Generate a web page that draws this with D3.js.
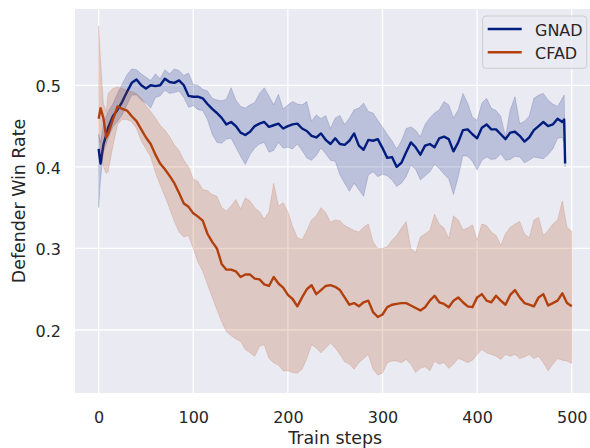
<!DOCTYPE html>
<html>
<head>
<meta charset="utf-8">
<script src="https://cdn.jsdelivr.net/npm/d3@7"></script>
<style>
  body { margin: 0; background: #fff; }
  svg text { font-family: "DejaVu Sans", sans-serif; fill: #262626; }
</style>
</head>
<body>
<div id="chart"></div>
<script>
// ---- data ----
const seriesNames = ['GNAD', 'CFAD'];
const xTicks = [0, 100, 200, 300, 400, 500];
const yTicks = [0.2, 0.3, 0.4, 0.5];

const gnadSteps = [0, 2, 5, ...d3.range(10, 495, 5), 492, 493];
const gnadMean = [0.422, 0.404, 0.427,
  0.448, 0.462, 0.470, 0.480, 0.492, 0.503, 0.507, 0.500, 0.496, 0.500,
  0.499, 0.500, 0.508, 0.504, 0.503, 0.506, 0.500, 0.487, 0.486, 0.486,
  0.484, 0.477, 0.471, 0.466, 0.460, 0.452, 0.455, 0.450, 0.442, 0.439,
  0.443, 0.450, 0.453, 0.455, 0.449, 0.451, 0.453, 0.447, 0.450, 0.452,
  0.453, 0.447, 0.444, 0.438, 0.436, 0.441, 0.433, 0.428, 0.435, 0.428,
  0.427, 0.432, 0.441, 0.426, 0.421, 0.433, 0.432, 0.434, 0.423, 0.411,
  0.412, 0.400, 0.405, 0.418, 0.430, 0.424, 0.415, 0.426, 0.428, 0.424,
  0.435, 0.437, 0.434, 0.419, 0.430, 0.445, 0.446, 0.440, 0.435, 0.448,
  0.452, 0.446, 0.446, 0.440, 0.434, 0.442, 0.443, 0.438, 0.431, 0.436,
  0.445, 0.450, 0.455, 0.450, 0.452, 0.459, 0.455,
  0.458, 0.404];
const gnadHigh = [0.440, 0.430, 0.452,
  0.468, 0.477, 0.490, 0.502, 0.513, 0.520, 0.519, 0.514, 0.510, 0.506,
  0.514, 0.508, 0.519, 0.514, 0.520, 0.518, 0.512, 0.515, 0.501, 0.500,
  0.495, 0.493, 0.484, 0.482, 0.481, 0.483, 0.497, 0.482, 0.474, 0.472,
  0.476, 0.479, 0.490, 0.497, 0.487, 0.476, 0.489, 0.471, 0.476, 0.480,
  0.477, 0.476, 0.480, 0.456, 0.464, 0.459, 0.463, 0.447, 0.460, 0.463,
  0.452, 0.460, 0.470, 0.472, 0.478, 0.468, 0.466, 0.457, 0.449, 0.440,
  0.432, 0.422, 0.432, 0.447, 0.449, 0.445, 0.437, 0.452, 0.460, 0.466,
  0.470, 0.480, 0.476, 0.460, 0.470, 0.490, 0.478, 0.461, 0.457, 0.478,
  0.484, 0.472, 0.469, 0.462, 0.437, 0.470, 0.486, 0.453, 0.456, 0.462,
  0.484, 0.488, 0.490, 0.482, 0.477, 0.474, 0.484,
  0.488, 0.410];
const gnadLow = [0.350, 0.385, 0.418,
  0.435, 0.449, 0.456, 0.464, 0.476, 0.488, 0.488, 0.482, 0.478, 0.472,
  0.485, 0.487, 0.494, 0.490, 0.491, 0.493, 0.485, 0.473, 0.475, 0.470,
  0.469, 0.458, 0.440, 0.430, 0.429, 0.434, 0.435, 0.424, 0.413, 0.403,
  0.415, 0.423, 0.428, 0.430, 0.418, 0.420, 0.430, 0.423, 0.424, 0.422,
  0.428, 0.420, 0.411, 0.408, 0.414, 0.423, 0.416, 0.408, 0.407, 0.390,
  0.380, 0.370, 0.380, 0.372, 0.364, 0.390, 0.394, 0.388, 0.391, 0.389,
  0.384, 0.376, 0.380, 0.388, 0.402, 0.397, 0.384, 0.389, 0.394, 0.403,
  0.398, 0.391, 0.385, 0.366, 0.388, 0.414, 0.413, 0.407, 0.396, 0.408,
  0.412, 0.409, 0.410, 0.416, 0.408, 0.409, 0.413, 0.412, 0.405, 0.408,
  0.412, 0.411, 0.410, 0.415, 0.422, 0.435, 0.436,
  0.429, 0.400];

const cfadSteps = [0, 2, 5, 8, ...d3.range(10, 505, 5)];
const cfadMean = [0.459, 0.472, 0.460, 0.436,
  0.440, 0.458, 0.474, 0.471, 0.469, 0.462, 0.456, 0.446, 0.436, 0.428,
  0.415, 0.404, 0.397, 0.389, 0.380, 0.368, 0.355, 0.351, 0.343, 0.339,
  0.334, 0.318, 0.308, 0.300, 0.281, 0.274, 0.274, 0.272, 0.265, 0.268,
  0.268, 0.263, 0.262, 0.256, 0.254, 0.265, 0.257, 0.252, 0.243, 0.238,
  0.229, 0.240, 0.250, 0.255, 0.244, 0.249, 0.254, 0.255, 0.253, 0.249,
  0.240, 0.231, 0.233, 0.229, 0.234, 0.236, 0.222, 0.216, 0.219, 0.228,
  0.231, 0.232, 0.233, 0.233, 0.230, 0.227, 0.224, 0.228, 0.236, 0.242,
  0.234, 0.232, 0.228, 0.236, 0.240, 0.234, 0.229, 0.228, 0.240, 0.244,
  0.236, 0.234, 0.242, 0.236, 0.231, 0.243, 0.249, 0.240, 0.233, 0.231,
  0.229, 0.240, 0.244, 0.230, 0.233, 0.236, 0.245, 0.233, 0.229];
const cfadHigh = [0.573, 0.530, 0.478, 0.468,
  0.490, 0.496, 0.498, 0.496, 0.494, 0.492, 0.490, 0.484, 0.475, 0.468,
  0.460, 0.451, 0.445, 0.437, 0.427, 0.420, 0.408, 0.400, 0.385, 0.382,
  0.372, 0.371, 0.366, 0.364, 0.350, 0.346, 0.352, 0.360, 0.348, 0.362,
  0.358, 0.350, 0.345, 0.336, 0.345, 0.380, 0.352, 0.356, 0.345, 0.327,
  0.313, 0.311, 0.322, 0.335, 0.340, 0.350, 0.344, 0.332, 0.335, 0.334,
  0.328, 0.325, 0.322, 0.320, 0.326, 0.330, 0.308, 0.300, 0.300, 0.302,
  0.310, 0.316, 0.325, 0.333, 0.300, 0.295, 0.314, 0.318, 0.322, 0.342,
  0.330, 0.325, 0.312, 0.340, 0.335, 0.323, 0.325, 0.329, 0.310, 0.330,
  0.328, 0.320, 0.316, 0.304, 0.318, 0.326, 0.330, 0.333, 0.318, 0.313,
  0.335, 0.338, 0.316, 0.322, 0.330, 0.335, 0.358, 0.326, 0.321];
const cfadLow = [0.440, 0.420, 0.400, 0.392,
  0.394, 0.425, 0.452, 0.458, 0.458, 0.455, 0.447, 0.432, 0.422, 0.412,
  0.393, 0.378, 0.364, 0.349, 0.333, 0.320, 0.314, 0.316, 0.300, 0.283,
  0.272, 0.256, 0.240, 0.225, 0.210, 0.198, 0.193, 0.189, 0.186, 0.176,
  0.172, 0.168, 0.180, 0.182, 0.165, 0.160, 0.157, 0.150, 0.150, 0.148,
  0.147, 0.152, 0.165, 0.182, 0.178, 0.172, 0.178, 0.184, 0.178, 0.170,
  0.161, 0.158, 0.152, 0.160, 0.165, 0.170, 0.152, 0.145, 0.147, 0.160,
  0.162, 0.162, 0.160, 0.164, 0.158, 0.148, 0.153, 0.155, 0.150, 0.162,
  0.158, 0.160, 0.153, 0.158, 0.165, 0.163, 0.160, 0.163, 0.170, 0.176,
  0.172, 0.170, 0.168, 0.164, 0.170, 0.168, 0.170, 0.165, 0.167, 0.170,
  0.165, 0.168, 0.160, 0.150, 0.158, 0.165, 0.163, 0.162, 0.159];

const colors = {GNAD: '#001c7f', CFAD: '#b1400d'};

// ---- layout ----
const W = 590, H = 448;
const plot = {left: 75, top: 9, right: 595.4, bottom: 393};

const x = d3.scaleLinear().domain([-25, 525]).range([plot.left, plot.right]);
const y = d3.scaleLinear().domain([0.1228, 0.5935]).range([plot.bottom, plot.top]);

function rows(steps, mean, low, high){
  return steps.map((s, i) => ({step: s, mean: mean[i], low: low[i], high: high[i]}));
}
const series = [
  {name: 'GNAD', values: rows(gnadSteps, gnadMean, gnadLow, gnadHigh)},
  {name: 'CFAD', values: rows(cfadSteps, cfadMean, cfadLow, cfadHigh)}
];

const svg = d3.select('#chart').append('svg')
  .attr('width', W).attr('height', H);

svg.append('defs').append('clipPath').attr('id', 'clip')
  .append('rect')
  .attr('x', plot.left).attr('y', plot.top)
  .attr('width', plot.right - plot.left).attr('height', plot.bottom - plot.top);

// background + grid
svg.append('rect')
  .attr('x', plot.left).attr('y', plot.top)
  .attr('width', plot.right - plot.left).attr('height', plot.bottom - plot.top)
  .attr('fill', '#eaeaf2');

const grid = svg.append('g').attr('stroke', '#fff').attr('stroke-width', 1.3);
grid.selectAll('.gx').data(xTicks).enter().append('line')
  .attr('x1', d => x(d)).attr('x2', d => x(d))
  .attr('y1', plot.top).attr('y2', plot.bottom);
grid.selectAll('.gy').data(yTicks).enter().append('line')
  .attr('y1', d => y(d)).attr('y2', d => y(d))
  .attr('x1', plot.left).attr('x2', plot.right);

// bands + lines
const area = d3.area().x(d => x(d.step)).y0(d => y(d.low)).y1(d => y(d.high));
const line = d3.line().x(d => x(d.step)).y(d => y(d.mean));

const marks = svg.append('g').attr('clip-path', 'url(#clip)');
series.forEach(s => {
  marks.append('path').datum(s.values)
    .attr('d', area)
    .attr('fill', colors[s.name]).attr('fill-opacity', 0.2)
    .attr('stroke', colors[s.name]).attr('stroke-opacity', 0.2)
    .attr('stroke-width', 0.8);
  marks.append('path').datum(s.values)
    .attr('d', line)
    .attr('fill', 'none')
    .attr('stroke', colors[s.name])
    .attr('stroke-width', 2.4)
    .attr('stroke-linejoin', 'round');
});

// axes
const xAxis = svg.append('g')
  .attr('transform', `translate(0,${plot.bottom})`)
  .call(d3.axisBottom(x).tickValues(xTicks).tickSize(0).tickPadding(18.3));
const yAxis = svg.append('g')
  .attr('transform', `translate(${plot.left},0)`)
  .call(d3.axisLeft(y).tickValues(yTicks).tickSize(0).tickPadding(14).tickFormat(d3.format('.1f')));
[xAxis, yAxis].forEach(a => {
  a.select('.domain').remove();
  a.selectAll('text').style('font-size', '16px').attr('fill', '#262626')
    .style('font-family', '"DejaVu Sans", sans-serif');
});
yAxis.selectAll('text').attr('dy', '0.4em');

svg.append('text')
  .attr('x', (plot.left + plot.right) / 2).attr('y', 444)
  .attr('text-anchor', 'middle').style('font-size', '17.4px')
  .text('Train steps');
svg.append('text')
  .attr('transform', `translate(25,${(plot.top + plot.bottom) / 2}) rotate(-90)`)
  .attr('text-anchor', 'middle').style('font-size', '17.4px')
  .text('Defender Win Rate');

// legend
const legend = svg.append('g');
legend.append('rect')
  .attr('x', 482.7).attr('y', 16).attr('width', 104).attr('height', 52.3)
  .attr('rx', 3)
  .attr('fill', '#eaeaf2').attr('fill-opacity', 0.8)
  .attr('stroke', '#cccccc').attr('stroke-width', 1);
const items = legend.selectAll('.item').data(seriesNames).enter().append('g')
  .attr('transform', (d, i) => `translate(0,${29 + i * 23.3})`);
items.append('line')
  .attr('x1', 487.7).attr('x2', 521.7)
  .attr('stroke', d => colors[d]).attr('stroke-width', 2.4);
items.append('text')
  .attr('x', 535).attr('y', 6.7)
  .style('font-size', '16px')
  .text(d => d);
</script>
</body>
</html>
